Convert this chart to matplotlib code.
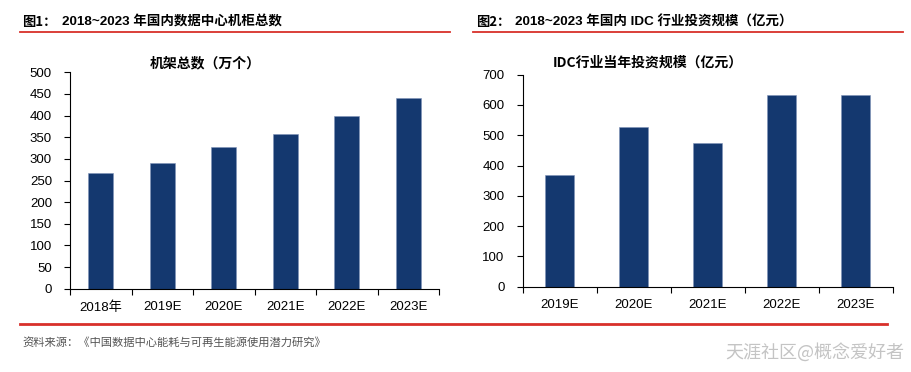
import matplotlib
matplotlib.use("Agg")
import matplotlib.pyplot as plt
import numpy as np

plt.rcParams['font.family'] = ['Liberation Sans', 'Noto Sans CJK SC', 'DejaVu Sans']

# data
racks_years = ["2018年", "2019E", "2020E", "2021E", "2022E", "2023E"]
racks_vals = [267, 291, 327, 358, 400, 441]

idc_years = ["2019E", "2020E", "2021E", "2022E", "2023E"]
idc_vals = [368, 527, 475, 632, 632]

bar_color = "#14386f"
red = "#d8302a"
cjk = ['Noto Sans CJK SC', 'DejaVu Sans']

fig = plt.figure(figsize=(9.12, 3.72), dpi=100)


def bar_panel(rect, cats, vals, ymax, ystep, width):
    ax = fig.add_axes(rect)
    x = np.arange(len(cats))
    ax.bar(x, vals, width=width, color=bar_color, edgecolor="#7f93b8", linewidth=0.4)
    ax.set_xlim(-0.5, len(cats) - 0.5)
    ax.set_ylim(0, ymax)
    ax.set_yticks(np.arange(0, ymax + 1, ystep))
    ax.set_xticks(np.arange(-0.5, len(cats), 1.0))
    ax.set_xticklabels([])
    ax.set_xticks(x, minor=True)
    ax.set_xticklabels(cats, minor=True)
    ax.tick_params(axis="x", which="major", direction="out", length=4, width=0.8)
    ax.tick_params(axis="x", which="minor", length=0, labelsize=9.5, pad=9)
    ax.tick_params(axis="y", direction="out", length=4, width=0.8, labelsize=9.5, pad=9)
    for s in ["top", "right"]:
        ax.spines[s].set_visible(False)
    for s in ["left", "bottom"]:
        ax.spines[s].set_linewidth(0.8)
    return ax


ax1 = bar_panel([0.0768, 0.2239, 0.4046, 0.5817], racks_years, racks_vals, 500, 50, 0.4)
ax2 = bar_panel([0.5731, 0.2293, 0.4058, 0.5699], idc_years, idc_vals, 700, 100, 0.39)

# headers
fig.text(22 / 912, 1 - 22 / 372, "图1：", family=cjk, fontsize=9.5, fontweight="bold", va="center")
fig.text(62 / 912, 1 - 22 / 372, "2018~2023 年国内数据中心机柜总数", family=['Liberation Sans', 'Noto Sans CJK SC'],
         fontsize=9.7, fontweight="bold", va="center")
fig.text(476 / 912, 1 - 22 / 372, "图2：", family=cjk, fontsize=9.5, fontweight="bold", va="center")
fig.text(515 / 912, 1 - 22 / 372, "2018~2023 年国内 IDC 行业投资规模（亿元）",
         family=['Liberation Sans', 'Noto Sans CJK SC'], fontsize=9.7, fontweight="bold", va="center")
fig.add_artist(plt.Line2D([20 / 912, 450 / 912], [1 - 31.5 / 372] * 2, color=red, lw=1.3))
fig.add_artist(plt.Line2D([473 / 912, 903 / 912], [1 - 31.5 / 372] * 2, color=red, lw=1.3))

# chart subtitles
fig.text(205 / 912, 1 - 63 / 372, "机架总数（万个）", family=cjk, fontsize=10, fontweight="bold",
         ha="center", va="center")
fig.text(648 / 912, 1 - 63 / 372, "IDC行业当年投资规模（亿元）", family=cjk, fontsize=10, fontweight="bold",
         ha="center", va="center")

# footer
fig.add_artist(plt.Line2D([20 / 912, 887 / 912], [1 - 324 / 372] * 2, color=red, lw=2))
fig.text(22 / 912, 1 - 342 / 372, "资料来源：《中国数据中心能耗与可再生能源使用潜力研究》", family=cjk,
         fontsize=8.1, color="#555555", va="center")
fig.text(904 / 912, 1 - 352 / 372, "天涯社区@概念爱好者", family=cjk, fontsize=13, color="#c4c4c4",
         ha="right", va="center", fontweight="light")

fig.savefig("out.png", dpi=100)
